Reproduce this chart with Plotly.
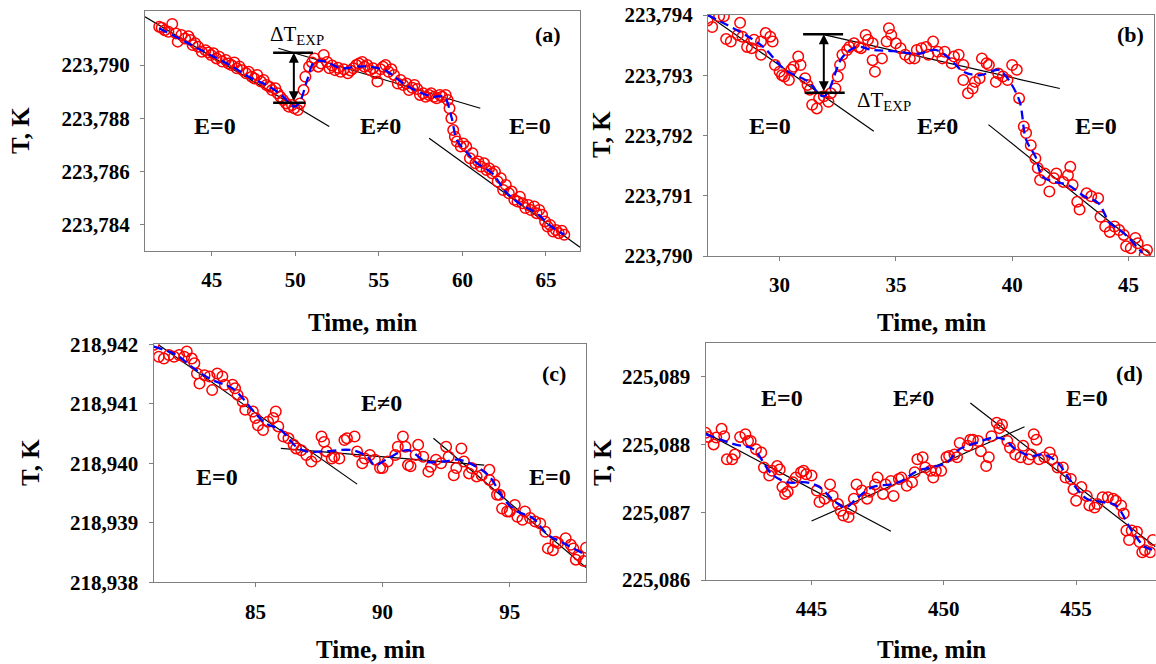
import plotly.graph_objects as go

W, H = 1156, 664
FONT = "Liberation Serif, 'Times New Roman', Times, serif"

# ---------------- Panel (a) ----------------
a_time = [41.85, 42.0, 42.18, 42.4, 42.63, 42.85, 42.96, 43.18, 43.4, 43.6, 43.73, 43.85, 44.0, 44.18, 44.4,
          44.62, 44.8, 44.95, 45.1, 45.28, 45.45, 45.62, 45.84, 46.0, 46.17, 46.35, 46.5, 46.65, 46.83, 47.05,
          47.2, 47.39, 47.55, 47.72, 47.94, 48.1, 48.27, 48.45, 48.6, 48.8, 48.94, 49.1, 49.27, 49.45, 49.6,
          49.8, 49.93, 50.15, 50.27, 50.49, 50.6, 50.82, 51.0, 51.15, 51.37, 51.55, 51.7, 51.9, 52.04, 52.2,
          52.37, 52.55, 52.7, 52.9, 53.14, 53.3, 53.47, 53.65, 53.81, 54.0, 54.14, 54.3, 54.47, 54.65, 54.8,
          54.91, 55.1, 55.25, 55.4, 55.58, 55.75, 55.91, 56.13, 56.3, 56.46, 56.65, 56.8, 57.0, 57.13, 57.3,
          57.46, 57.65, 57.8, 58.0, 58.13, 58.3, 58.46, 58.65, 58.79, 59.0, 59.12, 59.23, 59.34, 59.45, 59.55,
          59.67, 59.9, 60.05, 60.23, 60.45, 60.6, 60.78, 60.95, 61.11, 61.3, 61.45, 61.6, 61.78, 61.95, 62.11,
          62.3, 62.44, 62.6, 62.78, 62.95, 63.11, 63.3, 63.44, 63.6, 63.77, 63.95, 64.1, 64.3, 64.44, 64.6,
          64.77, 64.95, 65.1, 65.25, 65.43, 65.6, 65.77, 65.95, 66.1]
a_temp = [223.79144, 223.79140, 223.79131, 223.79125, 223.79154, 223.79119, 223.79088, 223.79113, 223.79100, 223.79108,
          223.79094, 223.79075, 223.79082, 223.79069, 223.79050, 223.79056, 223.79047, 223.79038, 223.79044, 223.79025,
          223.79031, 223.79013, 223.79019, 223.79006, 223.79000, 223.79010, 223.78988, 223.78995, 223.78981, 223.78969,
          223.78975, 223.78956, 223.78950, 223.78963, 223.78938, 223.78944, 223.78925, 223.78919, 223.78906, 223.78913,
          223.78894, 223.78881, 223.78869, 223.78856, 223.78844, 223.78850, 223.78838, 223.78831, 223.78856, 223.78906,
          223.78956, 223.78994, 223.79010, 223.79025, 223.78994, 223.79006, 223.79038, 223.79012, 223.78988, 223.78998,
          223.78981, 223.78990, 223.78975, 223.78984, 223.78969, 223.78980, 223.78988, 223.79000, 223.79006, 223.79012,
          223.78994, 223.79000, 223.78981, 223.78988, 223.78969, 223.78938, 223.78984, 223.78994, 223.79000, 223.78975,
          223.78984, 223.78963, 223.78931, 223.78944, 223.78925, 223.78931, 223.78906, 223.78915, 223.78925, 223.78910,
          223.78888, 223.78894, 223.78881, 223.78888, 223.78894, 223.78881, 223.78875, 223.78888, 223.78881, 223.78888,
          223.78869, 223.78838, 223.78800, 223.78756, 223.78731, 223.78713, 223.78694, 223.78706, 223.78694, 223.78650,
          223.78669, 223.78631, 223.78638, 223.78619, 223.78631, 223.78606, 223.78613, 223.78594, 223.78600, 223.78563,
          223.78575, 223.78531, 223.78550, 223.78519, 223.78525, 223.78494, 223.78488, 223.78506, 223.78481, 223.78463,
          223.78475, 223.78456, 223.78469, 223.78444, 223.78456, 223.78438, 223.78413, 223.78394, 223.78400, 223.78375,
          223.78381, 223.78369, 223.78378, 223.78363]
a_fit_time = [41.85, 43.4, 44.73, 46.06, 47.39, 48.27, 49.16, 49.93, 50.27, 50.71, 51.15, 51.81, 52.7, 53.58, 54.47,
              55.36, 55.8, 56.46, 57.35, 58.24, 58.9, 59.34, 59.67, 60.23, 60.89, 61.78, 62.67, 63.55, 64.44, 65.32, 66.1]
a_fit_temp = [223.79138, 223.79088, 223.79044, 223.79000, 223.78950, 223.78925, 223.78888, 223.78844, 223.78863,
              223.78944, 223.79013, 223.79013, 223.78988, 223.78994, 223.78994, 223.78981, 223.78963, 223.78931,
              223.78900, 223.78881, 223.78881, 223.78806, 223.78719, 223.78675, 223.78631, 223.78594, 223.78519,
              223.78475, 223.78444, 223.78394, 223.78363]
a_tan_time = [[41.0, 52.03], [48.98, 61.07], [58.01, 67.04]]
a_tan_temp = [[223.79181, 223.78769], [223.79063, 223.78838], [223.78725, 223.78316]]
a_dt_time = [48.67, 51.06, 50.61, 49.91]      # bar start, top bar end, bottom bar end, arrow
a_dt_temp = [223.79046, 223.78859]            # top, bottom
a_yticks = [223.784, 223.786, 223.788, 223.790]
a_yticktext = ["223,784", "223,786", "223,788", "223,790"]
a_xticks = [45, 50, 55, 60, 65]

# ---------------- Panel (b) ----------------
b_time = [26.9, 27.1, 27.4, 27.6, 27.7, 27.9, 28.2, 28.3, 28.4, 28.6, 28.8, 28.9, 29.2, 29.2, 29.4, 29.6, 29.7,
          29.8, 30.0, 30.1, 30.2, 30.4, 30.5, 30.6, 30.8, 30.9, 31.1, 31.2, 31.3, 31.4, 31.6, 31.7, 31.9, 32.1,
          32.2, 32.4, 32.5, 32.6, 32.7, 32.9, 33.0, 33.2, 33.4, 33.5, 33.7, 33.8, 34.0, 34.0, 34.1, 34.4, 34.6,
          34.7, 34.8, 35.0, 35.2, 35.4, 35.6, 35.8, 35.9, 36.1, 36.3, 36.4, 36.6, 36.8, 37.0, 37.1, 37.4, 37.5,
          37.7, 37.9, 37.9, 38.1, 38.3, 38.4, 38.6, 38.7, 38.9, 39.0, 39.3, 39.4, 39.6, 39.8, 40.0, 40.2, 40.3,
          40.5, 40.6, 40.8, 41.0, 41.1, 41.2, 41.4, 41.6, 41.8, 41.9, 42.2, 42.4, 42.5, 42.6, 42.8, 42.9, 43.2,
          43.4, 43.7, 43.8, 44.0, 44.2, 44.4, 44.6, 44.8, 44.9, 45.1, 45.3, 45.4, 45.7, 45.8]
b_temp = [223.79391, 223.79380, 223.79398, 223.79398, 223.79360, 223.79356, 223.79367, 223.79387, 223.79364,
          223.79347, 223.79345, 223.79359, 223.79356, 223.79334, 223.79370, 223.79364, 223.79356, 223.79317,
          223.79306, 223.79300, 223.79298, 223.79292, 223.79309, 223.79314, 223.79331, 223.79317, 223.79295,
          223.79284, 223.79276, 223.79251, 223.79245, 223.79262, 223.79265, 223.79256, 223.79270, 223.79278,
          223.79298, 223.79317, 223.79334, 223.79342, 223.79347, 223.79353, 223.79347, 223.79345, 223.79367,
          223.79359, 223.79353, 223.79325, 223.79306, 223.79328, 223.79356, 223.79378, 223.79367, 223.79353,
          223.79345, 223.79334, 223.79328, 223.79328, 223.79342, 223.79345, 223.79347, 223.79334, 223.79356,
          223.79339, 223.79328, 223.79339, 223.79320, 223.79331, 223.79334, 223.79317, 223.79292, 223.79270,
          223.79278, 223.79289, 223.79295, 223.79328, 223.79320, 223.79317, 223.79289, 223.79303, 223.79298,
          223.79292, 223.79317, 223.79309, 223.79262, 223.79215, 223.79204, 223.79184, 223.79162, 223.79146,
          223.79126, 223.79137, 223.79107, 223.79129, 223.79137, 223.79123, 223.79134, 223.79148, 223.79118,
          223.79090, 223.79077, 223.79104, 223.79099, 223.79096, 223.79065, 223.79049, 223.79040, 223.79049,
          223.79043, 223.79035, 223.79016, 223.79013, 223.79030, 223.79021, 223.79002, 223.79010]
b_fit_time = [26.9, 29.2, 30.2, 31.2, 31.9, 32.7, 33.3, 34.0, 34.9, 36.0, 36.7, 37.3, 37.9, 38.6, 39.4, 39.7,
              40.3, 40.6, 41.0, 41.3, 41.8, 42.4, 43.1, 43.7, 44.2, 44.8, 45.6]
b_fit_temp = [223.79400, 223.79350, 223.79310, 223.79290, 223.79265, 223.79330, 223.79347, 223.79342, 223.79340,
              223.79336, 223.79342, 223.79328, 223.79306, 223.79300, 223.79309, 223.79300, 223.79259, 223.79193,
              223.79165, 223.79132, 223.79123, 223.79118, 223.79099, 223.79088, 223.79055, 223.79038, 223.79005]
b_tan_time = [[26.9, 34.05], [31.94, 42.05], [38.98, 45.97]]
b_tan_temp = [[223.79400, 223.79207], [223.79367, 223.79278], [223.79218, 223.79002]]
b_dt_time = [31.01, 32.73, 31.08, 32.80, 31.90]   # top bar, bottom bar, arrow
b_dt_temp = [223.79368, 223.79271]
b_yticks = [223.790, 223.791, 223.792, 223.793, 223.794]
b_yticktext = ["223,790", "223,791", "223,792", "223,793", "223,794"]
b_xticks = [30, 35, 40, 45]

# ---------------- Panel (c) ----------------
c_time = [81.0, 81.2, 81.4, 81.6, 81.8, 82.0, 82.2, 82.3, 82.5, 82.6, 82.7, 82.8, 83.0, 83.2, 83.3, 83.5, 83.7,
          83.8, 84.1, 84.2, 84.3, 84.5, 84.6, 84.9, 85.0, 85.1, 85.3, 85.5, 85.7, 85.8, 85.9, 86.1, 86.3, 86.5,
          86.6, 86.8, 87.0, 87.2, 87.4, 87.6, 87.7, 87.8, 88.0, 88.1, 88.3, 88.5, 88.6, 88.9, 89.0, 89.2, 89.3,
          89.5, 89.7, 89.9, 90.0, 90.2, 90.5, 90.6, 90.8, 90.9, 91.0, 91.1, 91.3, 91.4, 91.6, 91.8, 91.9, 92.1,
          92.3, 92.5, 92.6, 92.8, 92.9, 93.1, 93.2, 93.4, 93.5, 93.7, 93.9, 94.2, 94.2, 94.4, 94.5, 94.6, 94.7,
          94.9, 95.0, 95.2, 95.3, 95.5, 95.6, 95.8, 96.0, 96.2, 96.4, 96.5, 96.7, 96.8, 96.9, 97.2, 97.4, 97.5,
          97.6, 97.7, 97.9, 98.0]
c_temp = [218.94199, 218.94179, 218.94176, 218.94182, 218.94179, 218.94182, 218.94179, 218.94188, 218.94176,
          218.94168, 218.94151, 218.94134, 218.94148, 218.94146, 218.94123, 218.94151, 218.94146, 218.94132,
          218.94132, 218.94126, 218.94115, 218.94104, 218.94090, 218.94087, 218.94076, 218.94064, 218.94056,
          218.94070, 218.94076, 218.94087, 218.94062, 218.94045, 218.94042, 218.94031, 218.94025, 218.94022,
          218.94014, 218.94003, 218.94011, 218.94045, 218.94036, 218.94020, 218.94008, 218.94011, 218.94008,
          218.94039, 218.94042, 218.94045, 218.94020, 218.94000, 218.94008, 218.94014, 218.94006, 218.93992,
          218.93992, 218.94003, 218.94014, 218.94028, 218.94045, 218.94028, 218.93997, 218.93995, 218.94014,
          218.94031, 218.94011, 218.93986, 218.93994, 218.94006, 218.94000, 218.94028, 218.94011, 218.93980,
          218.93992, 218.94025, 218.94003, 218.93983, 218.93992, 218.93978, 218.93980, 218.93989, 218.93972,
          218.93964, 218.93947, 218.93947, 218.93924, 218.93919, 218.93919, 218.93930, 218.93910, 218.93905,
          218.93919, 218.93908, 218.93902, 218.93899, 218.93885, 218.93857, 218.93854, 218.93868, 218.93866,
          218.93874, 218.93863, 218.93857, 218.93838, 218.93846, 218.93836, 218.93858]
c_fit_time = [81.0, 81.9, 82.5, 83.3, 84.1, 85.0, 85.4, 86.0, 86.6, 87.0, 87.7, 88.8, 89.4, 89.7, 90.2, 91.0,
              91.7, 92.4, 93.0, 93.7, 94.2, 94.8, 95.3, 95.9, 96.5, 97.1, 98.0]
c_fit_temp = [218.94196, 218.94182, 218.94162, 218.94140, 218.94126, 218.94084, 218.94067, 218.94056, 218.94028,
              218.94020, 218.94020, 218.94022, 218.94011, 218.93997, 218.94008, 218.94022, 218.94003, 218.94003,
              218.94006, 218.93994, 218.93978, 218.93938, 218.93919, 218.93908, 218.93880, 218.93866, 218.93846]
c_tan_time = [[81.2, 89.0], [86.0, 94.0], [92.0, 98.0]]
c_tan_temp = [[218.94199, 218.93965], [218.94025, 218.93997], [218.94042, 218.93825]]
c_yticks = [218.938, 218.939, 218.940, 218.941, 218.942]
c_yticktext = ["218,938", "218,939", "218,940", "218,941", "218,942"]
c_xticks = [85, 90, 95]

# ---------------- Panel (d) ----------------
d_time = [441.0, 441.1, 441.3, 441.4, 441.6, 441.7, 441.8, 442.0, 442.1, 442.3, 442.5, 442.6, 442.7, 442.9,
          443.1, 443.2, 443.4, 443.5, 443.7, 443.8, 443.9, 444.0, 444.1, 444.3, 444.4, 444.6, 444.7, 444.8,
          445.0, 445.2, 445.3, 445.5, 445.7, 445.8, 446.0, 446.1, 446.2, 446.4, 446.5, 446.6, 446.7, 446.9,
          447.1, 447.2, 447.4, 447.5, 447.7, 447.8, 448.0, 448.1, 448.3, 448.4, 448.6, 448.8, 448.9, 449.0,
          449.2, 449.3, 449.5, 449.6, 449.7, 449.9, 450.1, 450.2, 450.4, 450.5, 450.6, 450.9, 451.0, 451.1,
          451.3, 451.4, 451.6, 451.7, 451.8, 452.0, 452.1, 452.2, 452.4, 452.5, 452.7, 452.9, 453.0, 453.2,
          453.3, 453.4, 453.5, 453.6, 453.8, 454.0, 454.1, 454.3, 454.5, 454.6, 454.8, 454.9, 455.0, 455.2,
          455.4, 455.5, 455.7, 455.8, 456.0, 456.2, 456.4, 456.5, 456.7, 456.8, 456.9, 457.0, 457.1, 457.3,
          457.4, 457.5, 457.6, 457.8, 457.9]
d_temp = [225.08817, 225.08811, 225.08800, 225.08810, 225.08823, 225.08812, 225.08778, 225.08778, 225.08785,
          225.08811, 225.08815, 225.08805, 225.08805, 225.08793, 225.08788, 225.08766, 225.08754, 225.08761,
          225.08768, 225.08763, 225.08737, 225.08727, 225.08730, 225.08744, 225.08751, 225.08759, 225.08761,
          225.08756, 225.08754, 225.08732, 225.08715, 225.08720, 225.08741, 225.08724, 225.08712, 225.08702,
          225.08695, 225.08693, 225.08705, 225.08720, 225.08741, 225.08732, 225.08720, 225.08730, 225.08741,
          225.08751, 225.08727, 225.08741, 225.08746, 225.08724, 225.08749, 225.08751, 225.08739, 225.08744,
          225.08759, 225.08778, 225.08781, 225.08766, 225.08761, 225.08751, 225.08761, 225.08761, 225.08781,
          225.08783, 225.08785, 225.08781, 225.08802, 225.08798, 225.08807, 225.08807, 225.08805, 225.08790,
          225.08768, 225.08781, 225.08812, 225.08832, 225.08824, 225.08829, 225.08805, 225.08795, 225.08785,
          225.08781, 225.08798, 225.08778, 225.08785, 225.08815, 225.08807, 225.08778, 225.08781, 225.08788,
          225.08778, 225.08766, 225.08766, 225.08751, 225.08749, 225.08734, 225.08717, 225.08737, 225.08724,
          225.08710, 225.08707, 225.08712, 225.08722, 225.08722, 225.08720, 225.08717, 225.08710, 225.08698,
          225.08673, 225.08659, 225.08673, 225.08671, 225.08656, 225.08641, 225.08644, 225.08641, 225.08659]
d_fit_time = [441.0, 442.1, 442.8, 443.5, 444.1, 444.8, 445.3, 445.9, 446.3, 446.7, 447.3, 448.0, 448.4, 449.0,
              449.5, 450.1, 450.6, 451.2, 451.9, 452.3, 452.7, 453.3, 453.8, 454.3, 454.8, 455.4, 456.0, 456.5,
              457.1, 457.6, 458.0]
d_fit_temp = [225.08815, 225.08800, 225.08793, 225.08756, 225.08744, 225.08744, 225.08737, 225.08715, 225.08707,
              225.08720, 225.08737, 225.08741, 225.08746, 225.08761, 225.08766, 225.08773, 225.08793, 225.08802,
              225.08810, 225.08807, 225.08793, 225.08783, 225.08785, 225.08773, 225.08746, 225.08720, 225.08715,
              225.08710, 225.08673, 225.08649, 225.08644]
d_tan_time = [[441.0, 448.0], [445.0, 453.05], [451.0, 458.0]]
d_tan_temp = [[225.08817, 225.08672], [225.08687, 225.08826], [225.08861, 225.08649]]
d_yticks = [225.086, 225.087, 225.088, 225.089]
d_yticktext = ["225,086", "225,087", "225,088", "225,089"]
d_xticks = [445, 450, 455]

# ---------------- Figure ----------------
def pxx(x):
    return x / W


def pyy(y):
    return 1 - y / H


fig = go.Figure()

panels = [
    ("", a_time, a_temp, a_fit_time, a_fit_temp, a_tan_time, a_tan_temp),
    ("2", b_time, b_temp, b_fit_time, b_fit_temp, b_tan_time, b_tan_temp),
    ("3", c_time, c_temp, c_fit_time, c_fit_temp, c_tan_time, c_tan_temp),
    ("4", d_time, d_temp, d_fit_time, d_fit_temp, d_tan_time, d_tan_temp),
]

for sfx, t, T, ft, fT, tt, tT in panels:
    xa, ya = "x" + sfx, "y" + sfx
    for lt, lT in zip(tt, tT):
        fig.add_trace(go.Scatter(x=lt, y=lT, mode="lines", xaxis=xa, yaxis=ya,
                                 line=dict(color="black", width=1.2), showlegend=False, hoverinfo="skip"))
    fig.add_trace(go.Scatter(x=t, y=T, mode="markers", xaxis=xa, yaxis=ya, showlegend=False,
                             marker=dict(symbol="circle-open", size=10.5, color="#ff0000",
                                         line=dict(width=1.5, color="#ff0000"))))
    fig.add_trace(go.Scatter(x=ft, y=fT, mode="lines", xaxis=xa, yaxis=ya, showlegend=False,
                             line=dict(color="#0000ff", width=2.3, dash="9px,5px", shape="spline"),
                             hoverinfo="skip"))

# Delta T bars
bar = dict(color="black", width=2.5)
fig.add_trace(go.Scatter(x=[a_dt_time[0], a_dt_time[1]], y=[a_dt_temp[0], a_dt_temp[0]], mode="lines",
                         xaxis="x", yaxis="y", line=bar, showlegend=False))
fig.add_trace(go.Scatter(x=[a_dt_time[0], a_dt_time[2]], y=[a_dt_temp[1], a_dt_temp[1]], mode="lines",
                         xaxis="x", yaxis="y", line=bar, showlegend=False))
fig.add_trace(go.Scatter(x=[b_dt_time[0], b_dt_time[1]], y=[b_dt_temp[0], b_dt_temp[0]], mode="lines",
                         xaxis="x2", yaxis="y2", line=bar, showlegend=False))
fig.add_trace(go.Scatter(x=[b_dt_time[2], b_dt_time[3]], y=[b_dt_temp[1], b_dt_temp[1]], mode="lines",
                         xaxis="x2", yaxis="y2", line=bar, showlegend=False))

axcommon = dict(showgrid=False, zeroline=False, showline=True, linecolor="#7f7f7f", linewidth=1.3,
                mirror=True, ticks="outside", ticklen=4, tickcolor="#7f7f7f", tickwidth=1,
                automargin=False, ticklabelstandoff=6,
                tickfont=dict(family=FONT, size=21, color="black", weight="bold"))

layout_axes = {
    "xaxis": dict(domain=[pxx(145), pxx(580)], range=[41.0, 67.04], tickvals=a_xticks, anchor="y", **axcommon),
    "yaxis": dict(domain=[pyy(251), pyy(11)], range=[223.78302, 223.79203], tickvals=a_yticks,
                  ticktext=a_yticktext, anchor="x", **axcommon),
    "xaxis2": dict(domain=[pxx(708), pxx(1154)], range=[26.92, 46.1], tickvals=b_xticks, anchor="y2", **axcommon),
    "yaxis2": dict(domain=[pyy(256), pyy(15)], range=[223.790, 223.794], tickvals=b_yticks,
                   ticktext=b_yticktext, anchor="x2", **axcommon),
    "xaxis3": dict(domain=[pxx(153.7), pxx(586)], range=[81.0, 98.0], tickvals=c_xticks, anchor="y3", **axcommon),
    "yaxis3": dict(domain=[pyy(582.3), pyy(344.3)], range=[218.938, 218.942], tickvals=c_yticks,
                   ticktext=c_yticktext, anchor="x3", **axcommon),
    "xaxis4": dict(domain=[pxx(705.7), pxx(1155.5)], range=[441.0, 458.0], tickvals=d_xticks, anchor="y4", **axcommon),
    "yaxis4": dict(domain=[pyy(580), pyy(342.7)], range=[225.086, 225.0895], tickvals=d_yticks,
                   ticktext=d_yticktext, anchor="x4", **axcommon),
}

ann = []


def txt(x, y, s, size=24, bold=True, xanchor="center", yanchor="middle", **kw):
    ann.append(dict(x=pxx(x), y=pyy(y), xref="paper", yref="paper", showarrow=False,
                    xanchor=xanchor, yanchor=yanchor,
                    text=("<b>%s</b>" % s) if bold else s,
                    font=dict(family=FONT, size=size, color="black"), **kw))


# axis titles
for cx in [362.5, 931]:
    txt(cx, 322, "Time, min", size=25)
for cx in [370, 931]:
    txt(cx, 649, "Time, min", size=25)
txt(20, 131, "T, K", size=25, textangle=-90)
txt(602, 135, "T, K", size=25, textangle=-90)
txt(30, 463, "T, K", size=25, textangle=-90)
txt(602, 463, "T, K", size=25, textangle=-90)

# panel labels
txt(548, 35, "(a)", size=22)
txt(1130, 35, "(b)", size=22)
txt(553.7, 373, "(c)", size=22)
txt(1129.7, 373, "(d)", size=22)

# E labels
txt(215, 126, "E=0")
txt(380, 126, "E≠0")
txt(530, 126, "E=0")
txt(770, 126, "E=0")
txt(937, 126, "E≠0")
txt(1096, 126, "E=0")
txt(381.5, 403, "E≠0")
txt(216.7, 477, "E=0")
txt(550, 477, "E=0")
txt(781.6, 398, "E=0")
txt(913, 398, "E≠0")
txt(1087, 398, "E=0")

# Delta T labels
txt(268, 20, "ΔT<sub>EXP</sub>", size=21, bold=False, xanchor="left", yanchor="top")
txt(855, 86, "ΔT<sub>EXP</sub>", size=21, bold=False, xanchor="left", yanchor="top")

# double-headed arrows
ann.append(dict(x=a_dt_time[3], y=a_dt_temp[0], ax=a_dt_time[3], ay=a_dt_temp[1], xref="x", yref="y",
                axref="x", ayref="y", showarrow=True, arrowhead=2, arrowside="end+start", arrowsize=1,
                arrowwidth=2, arrowcolor="black", text=""))
ann.append(dict(x=b_dt_time[4], y=b_dt_temp[0], ax=b_dt_time[4], ay=b_dt_temp[1], xref="x2", yref="y2",
                axref="x2", ayref="y2", showarrow=True, arrowhead=2, arrowside="end+start", arrowsize=1,
                arrowwidth=2, arrowcolor="black", text=""))

fig.update_layout(width=W, height=H, autosize=False, margin=dict(l=0, r=0, t=0, b=0),
                  paper_bgcolor="white", plot_bgcolor="white", showlegend=False,
                  font=dict(family=FONT),
                  annotations=ann, **layout_axes)

fig.write_html("out.html", config={"displayModeBar": False},
               post_script="document.body.style.margin='0';document.body.style.overflow='hidden';")
